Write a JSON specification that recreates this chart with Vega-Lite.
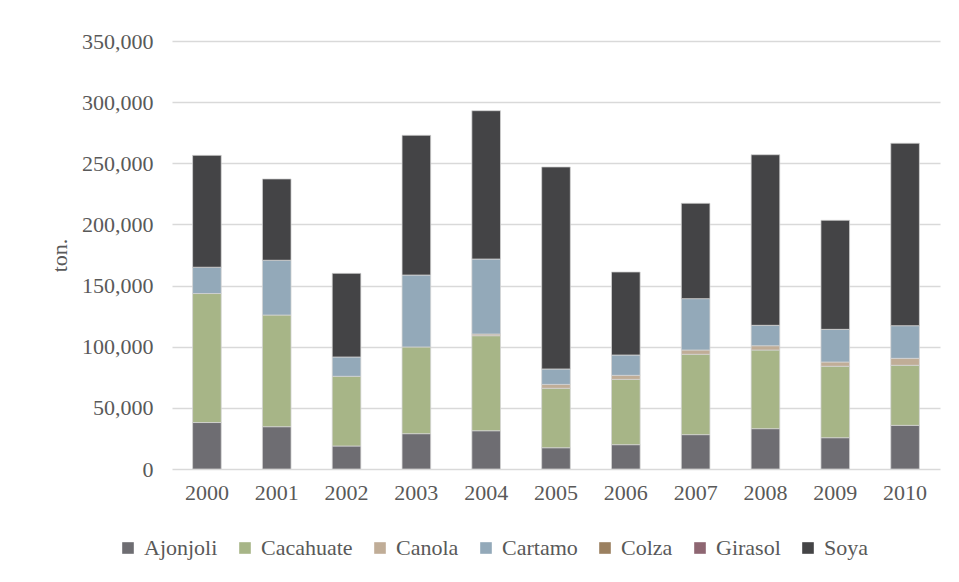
{
  "$schema": "https://vega.github.io/schema/vega-lite/v6.json",
  "width": 768,
  "height": 428,
  "autosize": {"type": "none"},
  "padding": {"left": 172, "top": 41, "right": 19, "bottom": 113},
  "background": "white",
  "data": {"values": [
    {"year": "2000", "crop": "Ajonjoli", "value": 38000},
    {"year": "2000", "crop": "Cacahuate", "value": 105500},
    {"year": "2000", "crop": "Cartamo", "value": 21500},
    {"year": "2000", "crop": "Soya", "value": 91500},
    {"year": "2001", "crop": "Ajonjoli", "value": 34600},
    {"year": "2001", "crop": "Cacahuate", "value": 91300},
    {"year": "2001", "crop": "Cartamo", "value": 44800},
    {"year": "2001", "crop": "Soya", "value": 66500},
    {"year": "2002", "crop": "Ajonjoli", "value": 18800},
    {"year": "2002", "crop": "Cacahuate", "value": 57000},
    {"year": "2002", "crop": "Cartamo", "value": 15800},
    {"year": "2002", "crop": "Soya", "value": 68400},
    {"year": "2003", "crop": "Ajonjoli", "value": 28900},
    {"year": "2003", "crop": "Cacahuate", "value": 70900},
    {"year": "2003", "crop": "Cartamo", "value": 58800},
    {"year": "2003", "crop": "Soya", "value": 114300},
    {"year": "2004", "crop": "Ajonjoli", "value": 31300},
    {"year": "2004", "crop": "Cacahuate", "value": 77700},
    {"year": "2004", "crop": "Canola", "value": 1400},
    {"year": "2004", "crop": "Cartamo", "value": 61300},
    {"year": "2004", "crop": "Soya", "value": 121300},
    {"year": "2005", "crop": "Ajonjoli", "value": 17400},
    {"year": "2005", "crop": "Cacahuate", "value": 48600},
    {"year": "2005", "crop": "Canola", "value": 3200},
    {"year": "2005", "crop": "Cartamo", "value": 12600},
    {"year": "2005", "crop": "Soya", "value": 165200},
    {"year": "2006", "crop": "Ajonjoli", "value": 19900},
    {"year": "2006", "crop": "Cacahuate", "value": 53400},
    {"year": "2006", "crop": "Canola", "value": 3300},
    {"year": "2006", "crop": "Cartamo", "value": 16600},
    {"year": "2006", "crop": "Soya", "value": 67900},
    {"year": "2007", "crop": "Ajonjoli", "value": 28100},
    {"year": "2007", "crop": "Cacahuate", "value": 65700},
    {"year": "2007", "crop": "Canola", "value": 3500},
    {"year": "2007", "crop": "Cartamo", "value": 42000},
    {"year": "2007", "crop": "Soya", "value": 78000},
    {"year": "2008", "crop": "Ajonjoli", "value": 33000},
    {"year": "2008", "crop": "Cacahuate", "value": 64300},
    {"year": "2008", "crop": "Canola", "value": 3500},
    {"year": "2008", "crop": "Cartamo", "value": 16700},
    {"year": "2008", "crop": "Soya", "value": 139500},
    {"year": "2009", "crop": "Ajonjoli", "value": 25600},
    {"year": "2009", "crop": "Cacahuate", "value": 58400},
    {"year": "2009", "crop": "Canola", "value": 3500},
    {"year": "2009", "crop": "Cartamo", "value": 26700},
    {"year": "2009", "crop": "Soya", "value": 89200},
    {"year": "2010", "crop": "Ajonjoli", "value": 35700},
    {"year": "2010", "crop": "Cacahuate", "value": 49100},
    {"year": "2010", "crop": "Canola", "value": 5700},
    {"year": "2010", "crop": "Cartamo", "value": 26700},
    {"year": "2010", "crop": "Soya", "value": 149200}
  ]},
  "mark": {"type": "bar", "stroke": "#d4d4d4", "strokeWidth": 0.75},
  "encoding": {
    "x": {
      "field": "year", "type": "nominal",
      "scale": {"paddingInner": 0.59, "paddingOuter": 0.295},
      "axis": {"title": null, "labelAngle": 0, "ticks": false, "domain": false, "labelPadding": 13}
    },
    "y": {
      "field": "value", "type": "quantitative", "stack": "zero",
      "scale": {"domain": [0, 350000], "nice": false},
      "axis": {
        "title": "ton.", "values": [0, 50000, 100000, 150000, 200000, 250000, 300000, 350000],
        "format": ",.0f", "ticks": false, "domain": false, "labelPadding": 19,
        "titlePadding": 10, "gridColor": "#d9d9d9", "gridWidth": 1.5
      }
    },
    "order": {"field": "crop", "sort": "ascending"},
    "color": {
      "field": "crop", "type": "nominal",
      "scale": {
        "domain": ["Ajonjoli", "Cacahuate", "Canola", "Cartamo", "Colza", "Girasol", "Soya"],
        "range": ["#6e6d72", "#a7b587", "#c0ad97", "#93a9b9", "#9b8060", "#8e6672", "#444446"]
      },
      "legend": {
        "title": null, "orient": "none", "direction": "horizontal",
        "legendX": -55, "legendY": 496, "symbolType": "square", "symbolSize": 135,
        "symbolStrokeWidth": 0, "labelFontSize": 22, "columnPadding": 16, "labelOffset": 5
      }
    }
  },
  "config": {
    "font": "Liberation Serif",
    "view": {"stroke": null},
    "axis": {"labelFont": "Liberation Serif", "labelFontSize": 22, "labelColor": "#595959", "titleFont": "Liberation Serif", "titleFontSize": 22, "titleFontWeight": "normal", "titleColor": "#595959", "grid": false},
    "axisY": {"grid": true},
    "legend": {"labelFont": "Liberation Serif", "labelColor": "#595959"}
  }
}
